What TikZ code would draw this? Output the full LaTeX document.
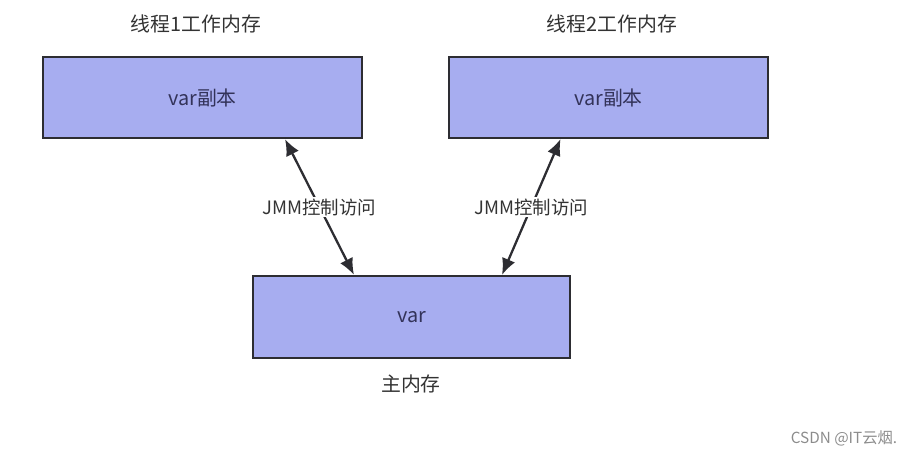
\documentclass[tikz,border=0pt]{standalone}
\usepackage{fontspec}
\setmainfont{Noto Sans CJK SC}
\usetikzlibrary{arrows.meta,positioning,calc}
\definecolor{boxfill}{RGB}{167,173,240}
\definecolor{boxline}{RGB}{45,45,50}
\definecolor{txtgray}{RGB}{51,51,51}
\tikzset{mem/.style = {draw=boxline, fill=boxfill, line width=1.2pt, rectangle, minimum width=6.38cm, minimum height=1.62cm, font=\fontsize{11.3}{13}\selectfont, text=black!75!blue!60!gray},
         title/.style = {font=\fontsize{11.3}{13}\selectfont, text=txtgray},
         link/.style = {{Latex[length=3.3mm,width=2.8mm]}-{Latex[length=3.3mm,width=2.8mm]}, draw=boxline, line width=1.3pt},
         tag/.style = {fill=white, inner sep=1pt, font=\fontsize{10.5}{12}\selectfont, text=txtgray},
}

\begin{document}
\begin{tikzpicture}[x=0.02cm, y=-0.02cm]
  \useasboundingbox (0,0) rectangle (910,454);

  \node[mem] (w1) at (202.5,97.5) {var副本};
  \node[mem, right = 1.70cm of w1] (w2) {var副本};
  \node[mem, minimum width=6.34cm, minimum height=1.64cm] (main) at (411.5,317) {var};

  \node[title] (t1) at (196,24) {线程1工作内存};
  \node[title] (t2) at (612,24) {线程2工作内存};
  \node[title] (t3) at (411,384) {主内存};

  \coordinate (w1b) at ($(w1.south)+(82.5,0)$);
  \coordinate (w2b) at ($(w2.south)+(-48,0)$);
  \coordinate (m1) at ($(main.north)+(-57.5,0)$);
  \coordinate (m2) at ($(main.north)+(90.5,0)$);

  \draw[link] (w1b) -- node[tag] (j1) {JMM控制访问} (m1);
  \draw[link] (w2b) -- node[tag] (j2) {JMM控制访问} (m2);

  \node[font=\fontsize{8.7}{10}\selectfont, text=black!45] (csdn) at (844,438) {CSDN @IT云烟.};

\end{tikzpicture}
\end{document}
